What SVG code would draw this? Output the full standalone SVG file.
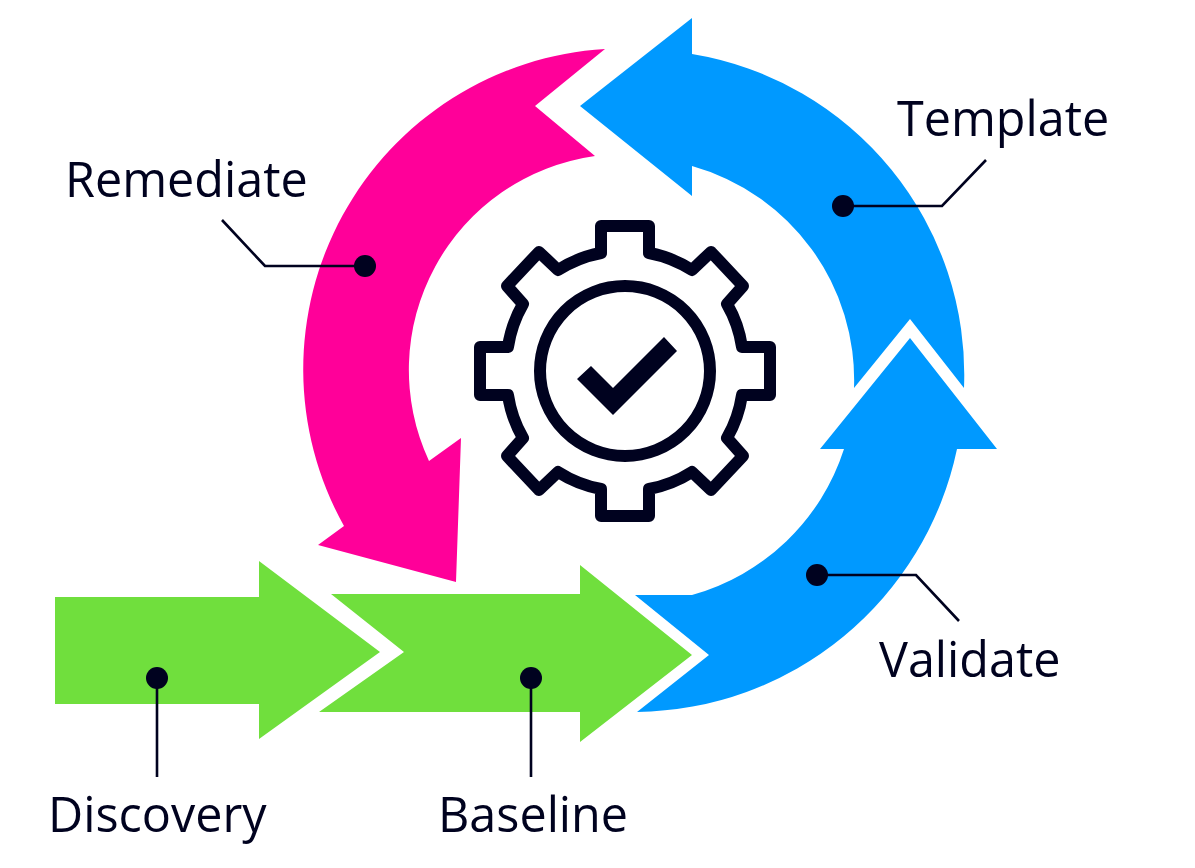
<svg xmlns="http://www.w3.org/2000/svg" width="1195" height="868" viewBox="0 0 1195 868">
<style>
.blue{fill:#0099ff}
.pink{fill:#ff0099}
.green{fill:#70df3d}
.lead{fill:none;stroke:#00021f;stroke-width:2.6}
.dot{fill:#00021f}
.gear{fill:none;stroke:#00021f;stroke-width:12;stroke-linejoin:round}
text{font-family:"Open Sans","Noto Sans",sans-serif;font-size:48.5px;fill:#00021f}
</style>
<rect width="1195" height="868" fill="#ffffff"/>
<g id="remediate"><path class="pink" d="M605 49L535 106L595 156A216 216 0 0 0 429 461L461 438L456 582L318 545L344 526A321 321 0 0 1 605 49Z"/></g>
<g id="template"><path class="blue" d="M580 106L692 18V54A325 325 0 0 1 964 388L910 319L854 388A222 222 0 0 0 692 166V196Z"/></g>
<g id="validate"><path class="blue" d="M910 338L997 449H957A331 331 0 0 1 637 712L709 655L635 595H692A222 222 0 0 0 844 449H820Z"/></g>
<g id="discovery"><path class="green" d="M55 597H259V561L380 652L259 739V704H55Z"/></g>
<g id="baseline"><path class="green" d="M331 594H580V565L692 655L580 742V712H319L404 652Z"/></g>
<g id="gear">
<path class="gear" d="M-24 -145H24V-118A121 121 0 0 1 67 -101L86 -119L118 -85L102 -67A121 121 0 0 1 117 -24H145V24H117A121 121 0 0 1 102 67L118 85L86 119L67 101A121 121 0 0 1 24 118V145H-24V118A121 121 0 0 1 -67 101L-86 119L-118 85L-102 67A121 121 0 0 1 -117 24H-145V-24H-117A121 121 0 0 1 -102 -67L-118 -85L-86 -119L-67 -101A121 121 0 0 1 -24 -118Z" transform="translate(625 371)"/>
<circle class="gear" cx="625" cy="371" r="85"/>
<path class="dot" d="M577 379L591 366L613 388L664 337L677 351L613 415Z"/>
</g>
<g id="connectors">
<path class="lead" d="M365 266H265L222 220"/>
<path class="lead" d="M843 206H942L986 160"/>
<path class="lead" d="M817 575H916L959 621"/>
<path class="lead" d="M157 678V777"/>
<path class="lead" d="M531 678V777"/>
<circle class="dot" cx="365" cy="266" r="11"/>
<circle class="dot" cx="843" cy="206" r="11"/>
<circle class="dot" cx="817" cy="575" r="11"/>
<circle class="dot" cx="157" cy="678" r="11"/>
<circle class="dot" cx="531" cy="678" r="11"/>
</g>
<text x="65" y="196.5">Remediate</text>
<text x="897" y="136">Template</text>
<text x="879" y="677">Validate</text>
<text x="48" y="832">Discovery</text>
<text x="438" y="832">Baseline</text>
</svg>
